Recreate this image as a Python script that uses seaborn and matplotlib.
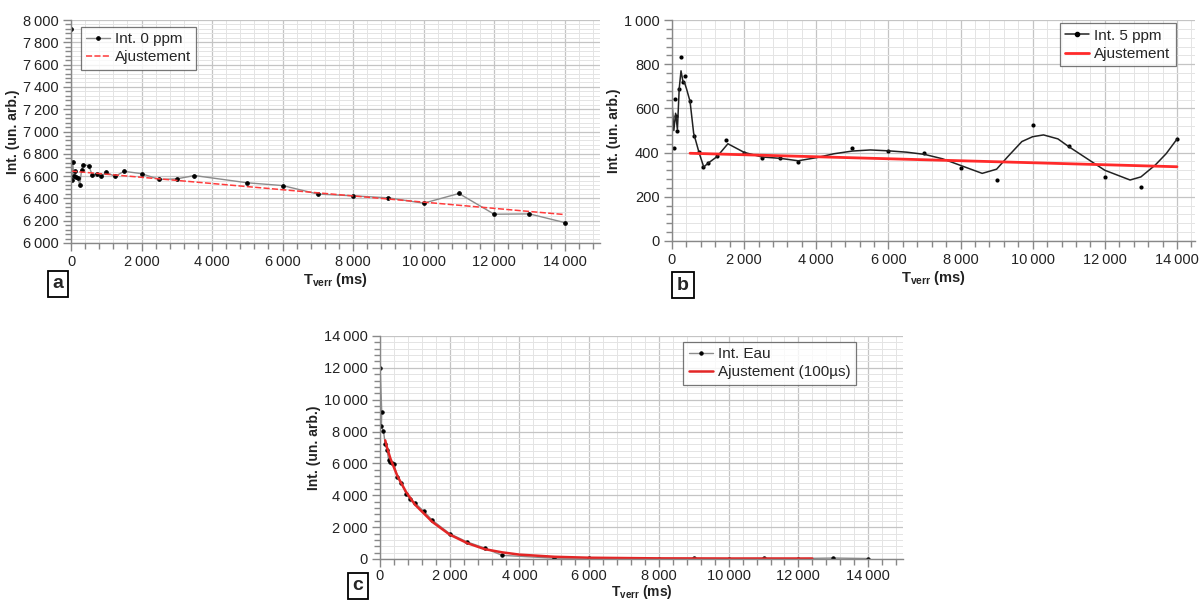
import matplotlib
matplotlib.use("Agg")
import matplotlib.pyplot as plt
from matplotlib.ticker import MultipleLocator, FuncFormatter
from matplotlib.lines import Line2D
import seaborn as sns

# ---------------- data ----------------
a_x = [5, 20, 50, 75, 100, 150, 200, 250, 300, 350, 500, 600, 750, 850, 1000, 1250, 1500,
       2000, 2500, 3000, 3500, 5000, 6000, 7000, 8000, 9000, 10000, 11000, 12000, 13000, 14000]
a_y = [7920, 6568, 6722, 6600, 6650, 6592, 6580, 6516, 6658, 6703, 6694, 6613, 6622, 6597, 6633, 6597, 6643,
       6622, 6570, 6575, 6605, 6540, 6515, 6439, 6423, 6405, 6357, 6444, 6258, 6261, 6183]
a_fit_x = [0, 14000]
a_fit_y = [6645, 6255]

b_x = [50, 75, 100, 150, 200, 250, 300, 350, 500, 600, 750, 850, 1000, 1250, 1500,
       2000, 2500, 3000, 3500, 5000, 6000, 7000, 8000, 9000, 10000, 11000, 12000, 13000, 14000]
b_y = [423, 643, 567, 499, 688, 833, 718, 745, 635, 473, 402, 333, 351, 386, 457,
       397, 377, 376, 356, 423, 405, 397, 332, 276, 524, 432, 291, 245, 461]
b_curve_x = [0, 50, 100, 150, 200, 250, 300, 350, 400, 500, 600, 750, 880, 1000, 1250, 1550, 2000, 2500,
             3000, 3500, 4000, 4500, 5000, 5500, 6000, 6500, 7000, 7500, 8000, 8600, 9000, 9300, 9700,
             10000, 10300, 10700, 11000, 11700, 12000, 12700, 13000, 13400, 13700, 14000]
b_curve_y = [625, 500, 578, 505, 690, 770, 725, 715, 690, 632, 488, 400, 335, 352, 382, 440, 401, 380,
             374, 363, 377, 395, 407, 412, 408, 402, 392, 372, 342, 306, 325, 380, 450,
             472, 480, 462, 427, 352, 320, 276, 290, 344, 395, 461]
b_fit_x = [500, 14000]
b_fit_y = [397, 336]

c_x = [5, 50, 40, 100, 150, 200, 250, 300, 350, 400, 500, 600, 750, 850, 1000, 1250, 1500,
       2000, 2500, 3000, 3500, 5000, 6000, 7000, 8000, 9000, 10000, 11000, 12000, 13000, 14000]
c_y = [12000, 9230, 8330, 8040, 7200, 6870, 6200, 6100, 6000, 5950, 5150, 4800, 4100, 3790, 3520, 3010, 2430,
       1590, 1070, 690, 230, 50, 60, 30, 30, 40, 30, 40, 30, 60, 30]
c_fit_x = [150, 200, 300, 500, 750, 1000, 1500, 2000, 2500, 3000, 3500, 4000, 5000, 6000, 8000, 10000, 12400]
c_fit_y = [7450, 7000, 6300, 5200, 4200, 3420, 2330, 1530, 1000, 620, 420, 275, 140, 80, 40, 30, 30]

labels_a = ["Int. 0 ppm", "Ajustement"]
labels_b = ["Int. 5 ppm", "Ajustement"]
labels_c = ["Int. Eau", "Ajustement (100µs)"]

# ---------------- style ----------------
sns.set_style("white")
plt.rcParams["font.family"] = ["Liberation Sans", "DejaVu Sans"]
plt.rcParams["mathtext.fontset"] = "custom"
plt.rcParams["mathtext.rm"] = "Liberation Sans"
plt.rcParams["mathtext.bf"] = "Liberation Sans:bold"

fig = plt.figure(figsize=(12.03, 6.01), dpi=100)
ax_a = fig.add_axes([71 / 1203, 1 - 243 / 601, 529 / 1203, 223 / 601])
ax_b = fig.add_axes([672 / 1203, 1 - 241 / 601, 523 / 1203, 221 / 601])
ax_c = fig.add_axes([380 / 1203, 1 - 559 / 601, 523 / 1203, 223 / 601])

def fmt(v, pos):
    s = f"{int(round(v)):,}"
    return s.replace(",", "\u2009")

def style(ax, xmax, ymin, ymax, ymaj, ymin_step):
    ax.set_xlim(0, xmax)
    ax.set_ylim(ymin, ymax)
    ax.xaxis.set_major_locator(MultipleLocator(2000))
    ax.xaxis.set_minor_locator(MultipleLocator(400))
    ax.yaxis.set_major_locator(MultipleLocator(ymaj))
    ax.yaxis.set_minor_locator(MultipleLocator(ymin_step))
    ax.xaxis.set_major_formatter(FuncFormatter(fmt))
    ax.yaxis.set_major_formatter(FuncFormatter(fmt))
    ax.grid(which="major", color="#c4c4c4", lw=0.9)
    ax.grid(which="minor", color="#e4e4e4", lw=0.7)
    ax.set_axisbelow(True)
    for s in ["top", "right"]:
        ax.spines[s].set_visible(False)
    for s in ["left", "bottom"]:
        ax.spines[s].set_color("#888888")
        ax.spines[s].set_linewidth(1.0)
    ax.tick_params(which="major", direction="out", length=6, width=1, color="#888888",
                   labelsize=10.5, labelcolor="#222222", left=True, bottom=True, pad=3)
    ax.tick_params(which="minor", direction="out", length=4, width=1, color="#888888",
                   left=True, bottom=True)
    ax.set_ylabel("Int. (un. arb.)", fontsize=10, fontweight="bold", color="#222222", labelpad=2)
    ax.set_xlabel(r"$\mathbf{T_{verr}}$ (ms)", fontsize=10.5, fontweight="bold", color="#222222",
                  labelpad=1)

data_kw = dict(color="#8c8c8c", lw=1.0, marker="o", markersize=2.6,
               markerfacecolor="black", markeredgecolor="black")
leg_kw = dict(fontsize=11, frameon=True, fancybox=False, edgecolor="#555555", borderpad=0.35,
              handlelength=1.6, handletextpad=0.3, labelspacing=0.28, borderaxespad=0)

# panel a
sns.lineplot(x=a_x, y=a_y, ax=ax_a, sort=False, estimator=None, label=labels_a[0], **data_kw)
sns.lineplot(x=a_fit_x, y=a_fit_y, ax=ax_a, color="#ff3b3b", lw=1.1, label=labels_a[1],
             linestyle=(0, (4, 1.5)))
style(ax_a, 15000, 6000, 8000, 200, 40)
leg = ax_a.legend(loc="upper left", bbox_to_anchor=(0.018, 0.97), **leg_kw)
leg.get_frame().set_linewidth(0.9)

# panel b
sns.lineplot(x=b_curve_x, y=b_curve_y, ax=ax_b, sort=False, estimator=None, color="#222222", lw=1.1)
sns.scatterplot(x=b_x, y=b_y, ax=ax_b, color="black", s=9, edgecolor="black", linewidth=0)
sns.lineplot(x=b_fit_x, y=b_fit_y, ax=ax_b, color="#ff2a2a", lw=2.0)
style(ax_b, 14500, 0, 1000, 200, 40)
hb = [Line2D([], [], color="#222222", lw=1.1, marker="o", markersize=3.0,
             markerfacecolor="black", markeredgecolor="black"),
      Line2D([], [], color="#ff2a2a", lw=2.0)]
leg = ax_b.legend(hb, labels_b, loc="upper right", bbox_to_anchor=(0.963, 0.985), **leg_kw)
leg.get_frame().set_linewidth(0.9)

# panel c
sns.lineplot(x=c_x, y=c_y, ax=ax_c, sort=False, estimator=None, label=labels_c[0],
             **dict(data_kw, markersize=2.4))
sns.lineplot(x=c_fit_x, y=c_fit_y, ax=ax_c, color="#e32626", lw=1.8, label=labels_c[1])
style(ax_c, 15000, 0, 14000, 2000, 400)
ax_c.tick_params(axis="x", which="major", pad=1.5)
ax_c.set_xlabel(r"$\mathbf{T_{verr}}$ (ms)", fontsize=10, fontweight="bold", color="#222222",
                labelpad=0)
leg = ax_c.legend(loc="upper left", bbox_to_anchor=(0.58, 0.975), **leg_kw)
leg.get_frame().set_linewidth(0.9)

# panel letters
box = dict(boxstyle="square,pad=0.25", facecolor="white", edgecolor="black", linewidth=1.3)
fig.text(58 / 1203, 1 - 284 / 601, "a", fontsize=14, fontweight="bold", ha="center", va="center", bbox=box)
fig.text(683 / 1203, 1 - 285 / 601, "b", fontsize=14, fontweight="bold", ha="center", va="center", bbox=box)
fig.text(358 / 1203, 1 - 586 / 601, "c", fontsize=14, fontweight="bold", ha="center", va="center", bbox=box)

fig.savefig("out.png", dpi=100, facecolor="white")
